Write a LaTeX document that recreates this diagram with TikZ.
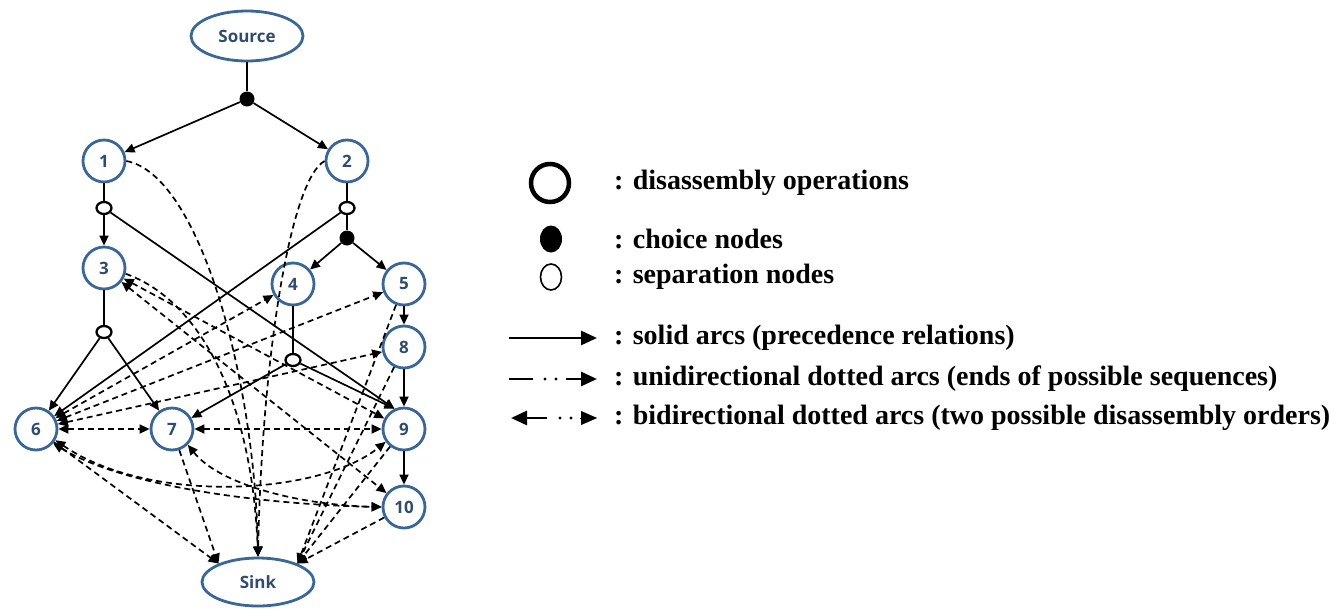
\documentclass[tikz,border=0pt]{standalone}
\usepackage{fontspec}
\setmainfont{Liberation Serif}
\newfontfamily\nodefont{Open Sans}
\usetikzlibrary{arrows.meta,shapes.geometric}
\definecolor{nodeblue}{HTML}{3A6796}
\definecolor{nodetext}{HTML}{2E4C6E}
\begin{document}
\begin{tikzpicture}[x=1pt,y=-1pt,
  op/.style={circle, draw=nodeblue, line width=2.8pt, minimum size=42pt, inner sep=0pt,
    font=\nodefont\bfseries\fontsize{17}{17}\selectfont, text=nodetext},
  term/.style={ellipse, draw=nodeblue, line width=2.8pt, minimum width=112pt, minimum height=50pt,
    inner sep=0pt, font=\nodefont\bfseries\fontsize{17}{17}\selectfont, text=nodetext},
  choice/.style={circle, fill=black, minimum size=15pt, inner sep=0pt},
  sepn/.style={ellipse, draw=black, line width=2.3pt, fill=white, minimum width=15pt, minimum height=12pt, inner sep=0pt},
  sline/.style={line width=1.7pt},
  sarc/.style={line width=1.7pt, -{Triangle[length=10pt,width=9pt]}},
  darc/.style={line width=1.7pt, dash pattern=on 6pt off 4pt, -{Triangle[length=10pt,width=9pt]}},
  barc/.style={line width=1.7pt, dash pattern=on 6pt off 4pt, {Triangle[length=10pt,width=9pt]}-{Triangle[length=10pt,width=9pt]}},
  legtext/.style={anchor=west, inner sep=0pt, font=\bfseries\fontsize{28}{28}\selectfont},
  legtip/.style={-{Triangle[length=16pt,width=14pt]}}
]
\useasboundingbox (0,0) rectangle (1335,608);
% nodes
\node[term] (src) at (247,36) {Source};
\node[choice] (c0) at (247,99) {};
\node[op] (n1) at (104,161) {1};
\node[op] (n2) at (347,161) {2};
\node[sepn] (s1) at (104,208) {};
\node[sepn] (s2) at (347,208) {};
\node[choice] (c2) at (347,238) {};
\node[op] (n3) at (104,268) {3};
\node[op] (n4) at (293,284) {4};
\node[op] (n5) at (404,284) {5};
\node[sepn] (s3) at (104,332) {};
\node[op] (n8) at (404,347) {8};
\node[sepn] (s4) at (293,360) {};
\node[op] (n6) at (36,429) {6};
\node[op] (n7) at (172,429) {7};
\node[op] (n9) at (404,429) {9};
\node[op] (n10) at (404,507) {10};
\node[term, minimum height=48pt] (sink) at (258,582) {Sink};
% solid arcs
\draw[sline] (src) -- (c0);
\draw[sarc] (c0) -- (n1);
\draw[sarc] (c0) -- (n2);
\draw[sline] (n1) -- (s1);
\draw[sarc] (s1) -- (n3);
\draw[sarc] (s1) -- (n9.115);
\draw[sline] (n2) -- (s2);
\draw[sarc] (s2) -- (n6);
\draw[sline] (s2) -- (c2);
\draw[sarc] (c2) -- (n4);
\draw[sarc] (c2) -- (n5);
\draw[sline] (n3) -- (s3);
\draw[sarc] (s3) -- (n6);
\draw[sarc] (s3) -- (n7);
\draw[sline] (n4) -- (s4);
\draw[sarc] (s4) -- (n7);
\draw[sarc] (s4) -- (n9.115);
\draw[sarc] (n5) -- (n8);
\draw[sarc] (n8) -- (n9);
\draw[sarc] (n9) -- (n10);
% dotted arcs
\draw[darc] (n1.east) .. controls (200,175) and (255,380) .. (sink.north);
\draw[darc] (n2.west) .. controls (290,180) and (262,360) .. (sink.north);
\draw[darc] (n3.-15) .. controls (200,300) and (252,400) .. (sink.north);
\draw[barc] (n3) -- (n9);
\draw[barc] (n3) -- (n10);
\draw[barc] (n6) -- (n4);
\draw[barc] (n6) -- (n5);
\draw[barc] (n6) -- (n8);
\draw[barc] (n6) -- (n7);
\draw[barc] (n7) -- (n9);
\draw[barc] (n6.-30) .. controls (150,505) and (320,495) .. (n9.-145);
\draw[barc] (n6.-40) .. controls (130,490) and (280,505) .. (n10.west);
\draw[barc] (n7.-45) .. controls (220,485) and (300,505) .. (n10.west);
\draw[darc] (n6) -- (sink.155);
\draw[darc] (n7) -- (sink.155);
\draw[darc] (n5) -- (sink.25);
\draw[darc] (n8) -- (sink.25);
\draw[darc] (n9) -- (sink.25);
\draw[darc] (n10) -- (sink.25);
% legend
\node[circle, draw=black, line width=4.5pt, minimum size=38pt, inner sep=0pt] (lop) at (550,183) {};
\node[ellipse, fill=black, minimum width=22pt, minimum height=27pt, inner sep=0pt] (lch) at (551,239) {};
\node[ellipse, draw=black, line width=1.6pt, minimum width=21pt, minimum height=26pt, inner sep=0pt] (lsp) at (551,277) {};
\coordinate (la1) at (509,338); \coordinate (la2) at (597,338);
\draw[line width=2.8pt, legtip] (la1) -- (la2);
\coordinate (lu1) at (509,379); \coordinate (lu2) at (533,379); \coordinate (lu3) at (566,379); \coordinate (lu4) at (597,379);
\draw[line width=2.8pt] (lu1) -- (lu2);
\fill (545,379) circle (1.6pt) (556,379) circle (1.6pt);
\draw[line width=2.8pt, legtip] (lu3) -- (lu4);
\coordinate (lb1) at (547,418); \coordinate (lb2) at (511,418); \coordinate (lb3) at (580,418); \coordinate (lb4) at (597,418);
\draw[line width=2.8pt, legtip] (lb1) -- (lb2);
\fill (560,418) circle (1.6pt) (571,418) circle (1.6pt);
\draw[line width=0.1pt, legtip] (lb3) -- (lb4);
\node[legtext] (t1) at (614,183) {: disassembly operations};
\node[legtext] (t2) at (614,239) {: choice nodes};
\node[legtext] (t3) at (614,277) {: separation nodes};
\node[legtext] (t4) at (614,338) {: solid arcs (precedence relations)};
\node[legtext] (t5) at (614,379) {: unidirectional dotted arcs (ends of possible sequences)};
\node[legtext] (t6) at (614,418) {: bidirectional dotted arcs (two possible disassembly orders)};
\end{tikzpicture}
\end{document}
